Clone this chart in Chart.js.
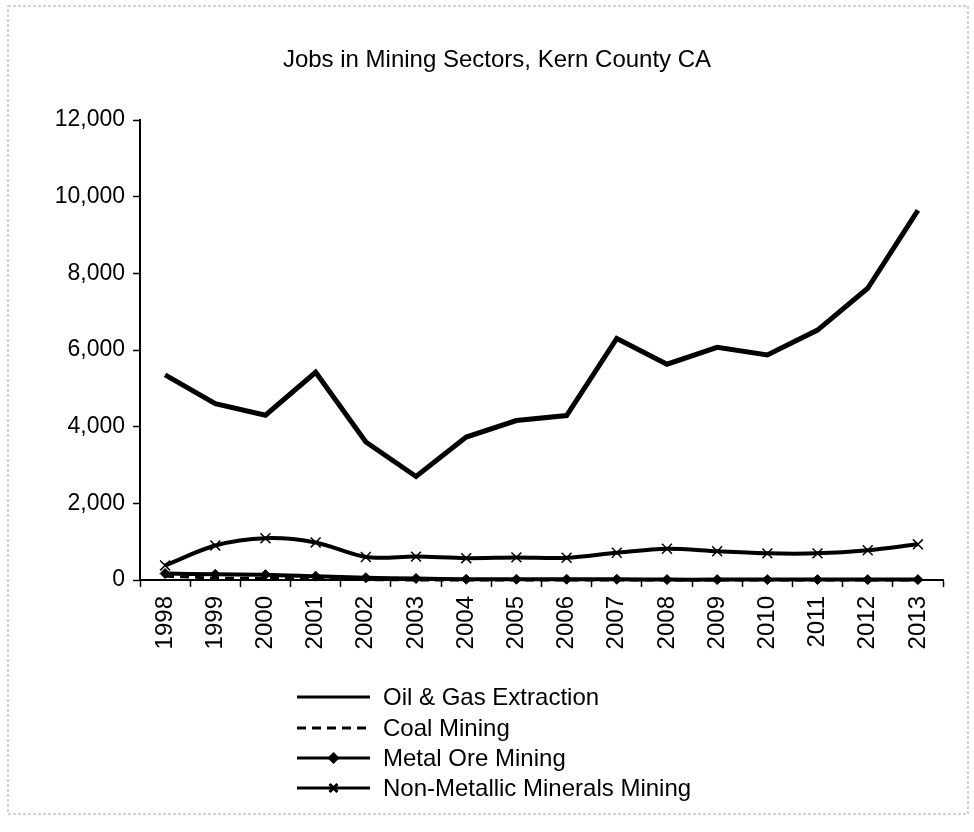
<!DOCTYPE html>
<html>
<head>
<meta charset="utf-8">
<title>Jobs in Mining Sectors, Kern County CA</title>
<script src="https://cdn.jsdelivr.net/npm/chart.js@4/dist/chart.umd.min.js"></script>
<style>
    html, body { margin: 0; padding: 0; background: #fff; }
    #wrap { width: 974px; height: 832px; position: relative; }
</style>
</head>
<body>
<div id="wrap"><canvas id="miningChart"></canvas></div>
<script>
// Kern County mining employment by year
const years = ['1998', '1999', '2000', '2001', '2002', '2003', '2004', '2005',
               '2006', '2007', '2008', '2009', '2010', '2011', '2012', '2013'];
const oilGas = [5350, 4600, 4300, 5420, 3600, 2700, 3730, 4160, 4290, 6300, 5630, 6070, 5870, 6520, 7610, 9640];
const coal = [100, 50, 40, 30, 10, 0, 0, 0, 0, 0, 0, 0, 0, 0, 0, 0];
const metalOre = [170, 150, 140, 100, 60, 40, 20, 20, 20, 20, 10, 10, 10, 10, 10, 10];
const nonMetallic = [380, 900, 1090, 980, 600, 610, 570, 590, 580, 710, 815, 750, 695, 695, 775, 930];
const yTicks = [0, 2000, 4000, 6000, 8000, 10000, 12000];
const chartTitle = 'Jobs in Mining Sectors, Kern County CA';

const FONT = "'Liberation Sans', Arial, sans-serif";

// title centred on the page, plus a vertical legend below the plot
const pageText = {
    id: 'pageText',
    afterDraw(chart) {
        const ctx = chart.ctx;
        ctx.save();
        ctx.fillStyle = '#000';
        ctx.font = '24px ' + FONT;
        ctx.textAlign = 'center';
        ctx.textBaseline = 'middle';
        ctx.fillText(chartTitle, 497, 60);

        const x0 = 297, x1 = 370, textX = 383;
        const rows = [697, 728, 758, 788];
        ctx.textAlign = 'left';
        chart.data.datasets.forEach((ds, i) => {
            const y = rows[i];
            ctx.beginPath();
            ctx.strokeStyle = '#000';
            ctx.lineWidth = ds.legendWidth;
            ctx.setLineDash(ds.borderDash || []);
            ctx.moveTo(x0, y);
            ctx.lineTo(x1, y);
            ctx.stroke();
            ctx.setLineDash([]);
            if (ds.pointRadius > 0) {
                Chart.helpers.drawPoint(ctx, {
                    pointStyle: ds.pointStyle,
                    radius: ds.pointRadius * 0.8,
                    borderWidth: 1.5
                }, (x0 + x1) / 2, y);
                ctx.fillStyle = '#000';
                ctx.fill();
            }
            ctx.fillStyle = '#000';
            ctx.font = '24px ' + FONT;
            ctx.textBaseline = 'middle';
            ctx.fillText(ds.label, textX, y + 1);
        });
        ctx.restore();
    }
};

// light frame round the whole figure
const frame = {
    id: 'frame',
    beforeDraw(chart) {
        const ctx = chart.ctx;
        ctx.save();
        ctx.strokeStyle = '#c4c4c4';
        ctx.lineWidth = 1.5;
        ctx.setLineDash([3, 2]);
        ctx.strokeRect(8, 6, 960, 808);
        ctx.restore();
    }
};

new Chart(document.getElementById('miningChart'), {
    type: 'line',
    data: {
        labels: years,
        datasets: [
            {
                label: 'Oil & Gas Extraction',
                data: oilGas,
                borderColor: '#000',
                borderWidth: 5,
                legendWidth: 3,
                pointRadius: 0,
                tension: 0,
                clip: false
            },
            {
                label: 'Coal Mining',
                data: coal,
                borderColor: '#000',
                borderWidth: 3,
                legendWidth: 3,
                borderDash: [9, 6],
                pointRadius: 0,
                tension: 0,
                clip: false
            },
            {
                label: 'Metal Ore Mining',
                data: metalOre,
                borderColor: '#000',
                backgroundColor: '#000',
                borderWidth: 4,
                legendWidth: 3,
                pointStyle: 'rectRot',
                pointRadius: 5,
                pointBorderWidth: 1,
                tension: 0.3,
                clip: false
            },
            {
                label: 'Non-Metallic Minerals Mining',
                data: nonMetallic,
                borderColor: '#000',
                backgroundColor: '#000',
                borderWidth: 4,
                legendWidth: 3,
                pointStyle: 'crossRot',
                pointRadius: 7,
                pointBorderWidth: 1.5,
                tension: 0.3,
                clip: false
            }
        ]
    },
    options: {
        responsive: true,
        maintainAspectRatio: false,
        animation: false,
        layout: {
            padding: { left: 0, right: 31, top: 120, bottom: 162 }
        },
        plugins: {
            legend: { display: false },
            tooltip: { enabled: false },
            title: { display: false }
        },
        scales: {
            x: {
                offset: true,
                afterFit(scale) { scale.height = 90; },
                grid: {
                    offset: true,
                    drawOnChartArea: false,
                    drawTicks: true,
                    tickLength: 7,
                    tickWidth: 1.5,
                    tickColor: '#000'
                },
                border: { display: true, color: '#000', width: 2 },
                ticks: {
                    color: '#000',
                    font: { family: FONT, size: 24 },
                    minRotation: 90,
                    maxRotation: 90,
                    autoSkip: false,
                    padding: 9
                }
            },
            y: {
                min: 0,
                max: 12000,
                afterFit(scale) { scale.width = 140; },
                afterBuildTicks(scale) {
                    scale.ticks = yTicks.map(v => ({ value: v }));
                },
                grid: {
                    drawOnChartArea: false,
                    drawTicks: true,
                    tickLength: 7,
                    tickWidth: 1.5,
                    tickColor: '#000'
                },
                border: { display: true, color: '#000', width: 2 },
                ticks: {
                    color: '#000',
                    font: { family: FONT, size: 23 },
                    padding: 8,
                    callback: v => v.toLocaleString('en-US')
                }
            }
        }
    },
    plugins: [frame, pageText]
});
</script>
</body>
</html>
